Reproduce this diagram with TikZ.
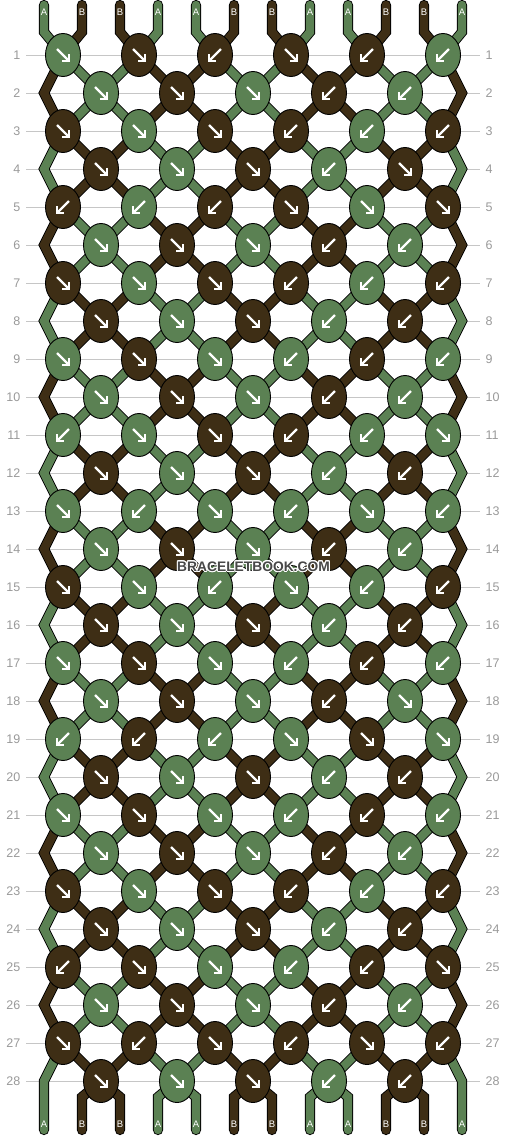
\documentclass[tikz,border=0pt]{standalone}
\usepackage{fontspec}
\setmainfont{Liberation Sans}
\usepackage{contour}
\usetikzlibrary{shapes.geometric}

\definecolor{threadA}{HTML}{5B8153}
\definecolor{threadB}{HTML}{3E2E15}
\definecolor{ruleline}{HTML}{C6C6C6}
\definecolor{rowgray}{HTML}{999999}
\contourlength{1.1pt}

\pgfdeclarelayer{back}
\pgfdeclarelayer{threads}
\pgfsetlayers{back,threads,main}

\tikzset{
  knot/.style={ellipse,draw=black,line width=0.9pt,fill=thread#1,
    minimum width=35pt,minimum height=43pt,inner sep=0pt},
  thread/.style={draw=black,line width=0.9pt,double=thread#1,
    double distance=8.4pt},
  knotarrow/.style={draw=white,line width=2.2pt},
  rowline/.style={draw=ruleline,line width=1pt},
  rownum/.style={text=rowgray,inner sep=0pt,font=\fontsize{12.5}{13}\selectfont},
  endlabel/.style={text=white,inner sep=0pt,font=\fontsize{9.5}{10}\selectfont},
  pics/arrowf/.style={code={
    \draw[knotarrow] (-6,-6) -- (5,5);
    \draw[knotarrow] (-0.6,6) -- (6,6) -- (6,-0.6);
  }},
  pics/arrowb/.style={code={
    \draw[knotarrow] (6,-6) -- (-5,5);
    \draw[knotarrow] (0.6,6) -- (-6,6) -- (-6,-0.6);
  }},
}

% colour of the thread at position #2 just above row #1 -> \tcol
\newcommand{\threadcol}[2]{%
  \pgfmathtruncatemacro\ci{mod(int(mod(#1,4)/2)+int(mod(#2,4)/2),2)}%
  \ifnum\ci=0 \def\tcol{A}\else\def\tcol{B}\fi}

\begin{document}
\begin{tikzpicture}[x=1pt,y=-1pt]
  \useasboundingbox (0,0) rectangle (506,1136);

  % row rulers and numbers
  \foreach \r in {1,...,28} {
    \pgfmathsetmacro\ypos{55+38*(\r-1)}
    \node[rownum,anchor=east] (nl\r) at (20.5,\ypos) {\r};
    \node[rownum,anchor=west] (nr\r) at (485.5,\ypos) {\r};
    \begin{pgfonlayer}{back}
      \draw[rowline] ([xshift=5.5]nl\r.east) -- ([xshift=-5.5]nr\r.west);
    \end{pgfonlayer}
  }

  % knots: colour/direction, f = forward, b = backward
  \foreach \r/\row in {
    1/{A/f,B/f,B/b,B/f,B/b,A/b},
    2/{A/f,B/f,A/f,B/b,A/b},
    3/{B/f,A/f,B/f,B/b,A/b,B/b},
    4/{B/f,A/f,B/f,A/b,B/f},
    5/{B/b,A/b,B/b,B/f,A/f,B/f},
    6/{A/f,B/f,A/f,B/b,A/b},
    7/{B/f,A/f,B/f,B/b,A/b,B/b},
    8/{B/f,A/f,B/f,A/b,B/b},
    9/{A/f,B/f,A/f,A/b,B/b,A/b},
    10/{A/f,B/f,A/f,B/b,A/b},
    11/{A/b,A/f,B/f,B/b,A/b,A/f},
    12/{B/f,A/f,B/f,A/b,B/b},
    13/{A/f,A/b,A/f,A/b,A/f,A/b},
    14/{A/f,B/f,A/f,B/b,A/b},
    15/{B/f,A/f,A/b,A/f,A/b,B/b},
    16/{B/f,A/f,B/f,A/b,B/b},
    17/{A/f,B/f,A/f,A/b,B/b,A/b},
    18/{A/f,B/f,A/f,B/b,A/f},
    19/{A/b,B/b,A/b,A/f,B/f,A/f},
    20/{B/f,A/f,B/f,A/b,B/b},
    21/{A/f,B/f,A/f,A/b,B/b,A/b},
    22/{A/f,B/f,A/f,B/b,A/b},
    23/{B/f,A/f,B/f,B/b,A/b,B/b},
    24/{B/f,A/f,B/f,A/b,B/b},
    25/{B/b,B/f,A/f,A/b,B/b,B/f},
    26/{A/f,B/f,A/f,B/b,A/b},
    27/{B/f,B/b,B/f,B/b,B/f,B/b},
    28/{B/f,A/f,B/f,A/b,B/b}} {
    \pgfmathsetmacro\ypos{55+38*(\r-1)}
    \pgfmathsetmacro\xo{isodd(\r) ? 63 : 101}
    \foreach \kc/\kd [count=\i] in \row {
      \node[knot=\kc] (k\r-\i) at ({\xo+76*(\i-1)},\ypos) {};
      \pic at (k\r-\i) {arrow\kd};
    }
  }

  % loose ends
  \foreach \p in {1,...,12} {
    \pgfmathsetmacro\xp{44+38*(\p-1)}
    \coordinate (top\p) at (\xp,5);
    \coordinate (bot\p) at (\xp,1130);
    \threadcol{1}{\p}
    \node[endlabel] (lt\p) at (\xp,12.5) {\tcol};
    \threadcol{29}{\p}
    \node[endlabel] (lb\p) at (\xp,1124) {\tcol};
  }

  \begin{pgfonlayer}{threads}
    % threads between rows
    \foreach \r in {1,...,27} {
      \pgfmathtruncatemacro\rn{\r+1}
      \foreach \p in {2,...,11} {
        \pgfmathtruncatemacro\ia{isodd(\r) ? int((\p+1)/2) : int(\p/2)}
        \pgfmathtruncatemacro\ib{isodd(\r) ? int(\p/2) : int((\p+1)/2)}
        \threadcol{\rn}{\p}
        \draw[thread=\tcol] (k\r-\ia.center) -- (k\rn-\ib.center);
      }
    }
    % outer threads skip the even rows
    \foreach \r in {2,4,...,28} {
      \pgfmathtruncatemacro\rp{\r-1}
      \pgfmathtruncatemacro\rn{\r+1}
      \pgfmathsetmacro\ypos{55+38*(\r-1)}
      \coordinate (eL\r) at (44,\ypos);
      \coordinate (eR\r) at (462,\ypos);
      \threadcol{\r}{1}
      \ifnum\r<28
        \draw[thread=\tcol] (k\rp-1.center) -- (eL\r) -- (k\rn-1.center);
        \draw[thread=\tcol] (k\rp-6.center) -- (eR\r) -- (k\rn-6.center);
      \else
        \draw[thread=\tcol,line cap=round] (k\rp-1.center) -- (eL\r) -- (bot1);
        \draw[thread=\tcol,line cap=round] (k\rp-6.center) -- (eR\r) -- (bot12);
      \fi
    }
    % top and bottom ends
    \foreach \p in {1,...,12} {
      \pgfmathtruncatemacro\i{int((\p+1)/2)}
      \threadcol{1}{\p}
      \draw[thread=\tcol,line cap=round] (top\p) -- ([yshift=-27pt]top\p) -- (k1-\i.center);
    }
    \foreach \p in {2,...,11} {
      \pgfmathtruncatemacro\i{int(\p/2)}
      \threadcol{29}{\p}
      \draw[thread=\tcol,line cap=round] (k28-\i.center) -- ([yshift=33pt]bot\p) -- (bot\p);
    }
  \end{pgfonlayer}

  % watermark
  \node[font=\bfseries\fontsize{13.8}{14}\selectfont,text=black!72] (wm) at (253.5,567)
    {\contour{white}{BRACELETBOOK.COM}};
\end{tikzpicture}
\end{document}
